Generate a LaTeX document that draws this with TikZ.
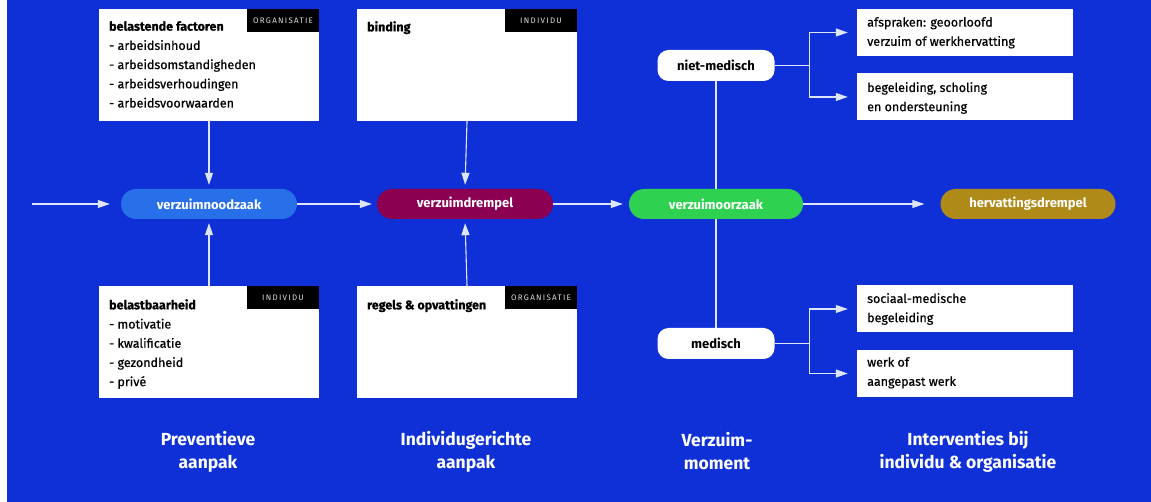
\documentclass[tikz,border=0pt]{standalone}
\usepackage{fontspec}
\setmainfont{Fira Sans}
\usetikzlibrary{arrows.meta}
\definecolor{bg}{RGB}{14,48,214}
\definecolor{pillblue}{RGB}{40,112,234}
\definecolor{pillred}{RGB}{140,0,82}
\definecolor{pillgreen}{RGB}{46,210,80}
\definecolor{pillgold}{RGB}{176,138,24}
\definecolor{conncol}{RGB}{222,228,250}
\definecolor{tagtext}{RGB}{220,220,220}
\begin{document}
\begin{tikzpicture}[x=1pt,y=-1pt,
  infobox/.style={fill=white, draw=none, minimum width=220pt, minimum height=112pt, inner sep=0pt},
  tag/.style={fill=black, text=tagtext, font=\fontsize{8}{9}\selectfont\addfontfeatures{LetterSpace=16}, minimum width=72pt, minimum height=23pt, inner sep=0pt, anchor=north east},
  boxtext/.style={anchor=north west, align=left, inner sep=0pt, font=\fontsize{12.5}{19.2}\selectfont\addfontfeatures{FakeBold=0.6}},
  pill/.style={rounded corners=15pt, minimum width=176pt, minimum height=30pt, inner sep=0pt, text=white, font=\bfseries\fontsize{13}{14}\selectfont},
  wpill/.style={fill=white, rounded corners=11pt, minimum width=117pt, minimum height=31pt, inner sep=0pt, text=black, font=\bfseries\fontsize{13}{14}\selectfont},
  rbox/.style={fill=white, minimum width=216pt, minimum height=47pt, inner sep=0pt},
  conn/.style={draw=conncol, line width=1.1pt},
  arr/.style={conn, -{Triangle[length=12pt,width=8pt,fill=conncol]}},
  phase/.style={text=white, align=center, font=\bfseries\fontsize{17.5}{23}\selectfont}
]
\useasboundingbox (0,0) rectangle (1151,502);
\fill[white] (0,0) rectangle (1151,502);
\fill[bg] (7,0) rectangle (1151,502);

% info boxes
\node[infobox] (b1) at (209,65) {};
\node[tag] (t1) at (b1.north east) {ORGANISATIE};
\node[boxtext] (b1t) at (109,21) {\textbf{belastende factoren}\\- arbeidsinhoud\\- arbeidsomstandigheden\\- arbeidsverhoudingen\\- arbeidsvoorwaarden};

\node[infobox] (b2) at (467,65) {};
\node[tag] (t2) at (b2.north east) {INDIVIDU};
\node[boxtext] (b2t) at (367,21) {\textbf{binding}};

\node[infobox] (b3) at (209,342) {};
\node[tag] (t3) at (b3.north east) {INDIVIDU};
\node[boxtext] (b3t) at (109,299) {\textbf{belastbaarheid}\\- motivatie\\- kwalificatie\\- gezondheid\\- privé};

\node[infobox] (b4) at (467,342) {};
\node[tag] (t4) at (b4.north east) {ORGANISATIE};
\node[boxtext] (b4t) at (367,299) {\textbf{regels \& opvattingen}};

% pills
\node[pill, fill=pillblue] (p1) at (209,204) {verzuimnoodzaak};
\node[pill, fill=pillred] (p2) at (465,204) {verzuimdrempel};
\node[pill, fill=pillgreen, minimum width=174pt] (p3) at (716,204) {verzuimoorzaak};
\node[pill, fill=pillgold, minimum width=175pt] (p4) at (1028,204) {hervattingsdrempel};

\node[wpill] (nm) at (716,65.5) {niet-medisch};
\node[wpill] (med) at (716,343.5) {medisch};

% right boxes
\node[rbox] (ra) at (965,32.5) {};
\node[boxtext] (rat) at (867,17) {afspraken: geoorloofd\\verzuim of werkhervatting};
\node[rbox] (rb) at (965,97) {};
\node[boxtext] (rbt) at (867,82) {begeleiding, scholing\\en ondersteuning};
\node[rbox] (rc) at (965,309) {};
\node[boxtext] (rct) at (867,293) {sociaal-medische\\begeleiding};
\node[rbox] (rd) at (965,373.5) {};
\node[boxtext] (rdt) at (867,357) {werk of\\aangepast werk};

% connectors
\coordinate (in) at (32,204);
\draw[arr, shorten >=11pt] (in) -- (p1.west);
\draw[arr, shorten >=5pt] (p1.east) -- (p2.west);
\draw[arr, shorten >=6pt] (p2.east) -- (p3.west);
\draw[arr, shorten >=16pt] (p3.east) -- (p4.west);
\draw[arr, shorten >=4pt] (b1.south) -- (p1.north);
\draw[arr, shorten >=4pt] (b3.north) -- (p1.south);
\draw[arr, shorten >=4pt] (b2.south) -- (p2.north);
\draw[arr, shorten >=4pt] (b4.north) -- (p2.south);
\draw[conn] (nm.south) -- (p3.north);
\draw[conn] (p3.south) -- (med.north);
\draw[arr, shorten >=9pt] (nm.east) -- ++(35,0) |- (ra.west);
\draw[arr, shorten >=9pt] (nm.east) -- ++(35,0) |- (rb.west);
\draw[arr, shorten >=9pt] (med.east) -- ++(35,0) |- (rc.west);
\draw[arr, shorten >=9pt] (med.east) -- ++(35,0) |- (rd.west);

% phase labels
\node[phase] (ph1) at (208,451.5) {Preventieve\\aanpak};
\node[phase] (ph2) at (466,451.5) {Individugerichte\\aanpak};
\node[phase] (ph3) at (717,451.5) {Verzuim-\\moment};
\node[phase] (ph4) at (968,451.5) {Interventies bij\\individu \& organisatie};
\end{tikzpicture}
\end{document}
